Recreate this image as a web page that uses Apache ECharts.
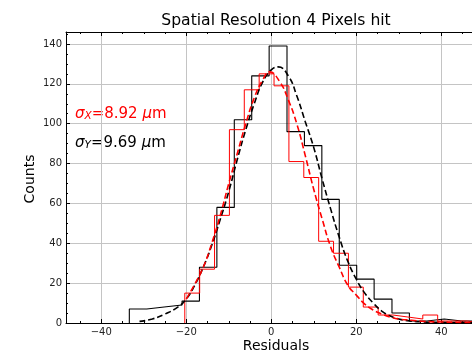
<!DOCTYPE html>
<html>
<head>
<meta charset="utf-8">
<script src="https://cdn.jsdelivr.net/npm/echarts@6/dist/echarts.min.js"></script>
<style>
  html, body { margin: 0; padding: 0; background: #fff; overflow: hidden; }
  /* the plot runs past the right edge of the window, like the reference */
  #main { width: 500px; height: 354px; }
</style>
</head>
<body>
<div id="main"></div>
<script>
  // histogram bin edges and counts
  const blackEdges = [-33.4, -29.3, -25.2, -21.0, -16.9, -12.8, -8.7, -4.6, -0.5, 3.7, 7.8, 11.9, 16.0, 20.1, 24.2, 28.4, 32.5, 36.6, 40.7, 44.8, 48.9];
  const blackCounts = [7, 8, 9, 11, 28, 58, 102, 124, 139, 96, 89, 62, 29, 22, 12, 5, 1, 2, 1, 1];

  const redEdges = [-20.35, -16.85, -13.35, -9.85, -6.35, -2.85, 0.65, 4.15, 7.65, 11.15, 14.65, 18.15, 21.65, 25.15, 28.65, 32.15, 35.65, 39.15, 42.65, 46.15, 49.65];
  const redCounts = [15, 27, 54, 97, 117, 125, 119, 81, 73, 41, 35, 18, 8, 4, 3, 2, 4, 1, 1, 0];

  // dashed fit curves
  const blackFitX = [-31, -28, -25, -22, -20, -18, -16, -14, -12, -10, -8, -6, -4, -2, 0, 1.6, 4, 6, 8, 10, 12, 14, 16, 18, 20, 22, 24, 26, 28, 30, 32, 35, 40, 45, 50];
  const blackFitY = [0.8, 2, 4.5, 8, 12, 19, 28, 39, 52, 66, 82, 97, 110, 121, 127, 128.5, 124, 114, 101, 88, 72, 57, 43, 31, 22, 15, 10, 6, 3.5, 2, 1.2, 0.6, 0.3, 0.2, 0.1];

  const redFitX = [-20, -18, -16, -14, -12, -10, -8, -6, -4, -2, -0.4, 2, 4, 6, 8, 10, 12, 14, 16, 18, 20, 22, 24, 26, 28, 30, 33, 36, 40, 45, 50];
  const redFitY = [12, 19.5, 28, 40, 54, 70, 85, 100, 113, 122, 126, 121, 112, 100, 84, 67, 52, 38, 28, 19, 14, 9.5, 6.5, 4.5, 3, 2, 1.4, 0.8, 0.5, 0.3, 0.2];

  const xMin = -48.3, xMax = 50.76;
  const yMin = 0, yMax = 146;

  const fontFamily = "DejaVu Sans";

  function stepData(edges, counts) {
    let pts = [[edges[0], 0]];
    for (let i = 0; i < counts.length; i++) {
      pts.push([edges[i], counts[i]]);
    }
    pts.push([edges[counts.length], 0]);
    return pts;
  }

  function zip(xs, ys) {
    return xs.map((x, i) => [x, ys[i]]);
  }

  function minus(v) {
    return String(v).replace("-", "\u2212");
  }

  let chart = echarts.init(document.getElementById("main"), null, { renderer: "canvas" });

  let tickCommon = {
    axisLine: { show: true, onZero: false, lineStyle: { color: "#000", width: 1 } },
    axisTick: { show: true, inside: true, length: 4, lineStyle: { color: "#000", width: 1 } },
    minorTick: { show: true, splitNumber: 4, length: 2, lineStyle: { color: "#000", width: 1 } }
  };

  let option = {
    animation: false,
    backgroundColor: "#fff",
    grid: { left: 66, top: 32, width: 421, height: 291 },
    xAxis: [
      Object.assign({
        type: "value",
        min: xMin,
        max: xMax,
        position: "bottom",
        axisLabel: {
          showMinLabel: false,
          showMaxLabel: false,
          fontFamily: fontFamily,
          fontSize: 10,
          color: "#222",
          margin: 4,
          formatter: minus
        },
        splitLine: { show: true, lineStyle: { color: "#c4c4c4", width: 1 } }
      }, tickCommon),
      Object.assign({
        type: "value",
        min: xMin,
        max: xMax,
        position: "top",
        axisLabel: { show: false },
        splitLine: { show: false }
      }, tickCommon)
    ],
    yAxis: [
      Object.assign({
        type: "value",
        min: yMin,
        max: yMax,
        interval: 20,
        position: "left",
        axisLabel: {
          showMaxLabel: false,
          fontFamily: fontFamily,
          fontSize: 10,
          color: "#222",
          margin: 4
        },
        splitLine: { show: true, lineStyle: { color: "#c4c4c4", width: 1 } }
      }, tickCommon)
    ],
    series: [
      {
        name: "black hist",
        type: "line",
        step: "end",
        symbol: "none",
        data: stepData(blackEdges, blackCounts),
        lineStyle: { color: "#000", width: 1.1 },
        z: 3
      },
      {
        name: "red hist",
        type: "line",
        step: "end",
        symbol: "none",
        data: stepData(redEdges, redCounts),
        lineStyle: { color: "#ff0000", width: 1 },
        z: 4
      },
      {
        name: "black fit",
        type: "line",
        smooth: true,
        symbol: "none",
        data: zip(blackFitX, blackFitY),
        lineStyle: { color: "#000", width: 1.6, type: [6, 3] },
        z: 5
      },
      {
        name: "red fit",
        type: "line",
        smooth: true,
        symbol: "none",
        data: zip(redFitX, redFitY),
        lineStyle: { color: "#ff0000", width: 1.6, type: [6, 3] },
        z: 6
      }
    ],
    graphic: [
      {
        type: "text",
        x: 276, y: 21,
        style: {
          text: "Spatial Resolution 4 Pixels hit",
          fontFamily: fontFamily, fontSize: 15.6,
          fill: "#000", align: "center", verticalAlign: "middle"
        }
      },
      {
        type: "text",
        x: 276, y: 346,
        style: {
          text: "Residuals",
          fontFamily: fontFamily, fontSize: 14,
          fill: "#000", align: "center", verticalAlign: "middle"
        }
      },
      {
        type: "text",
        x: 30, y: 179,
        rotation: Math.PI / 2,
        style: {
          text: "Counts",
          fontFamily: fontFamily, fontSize: 14,
          fill: "#000", align: "center", verticalAlign: "middle"
        }
      },
      {
        type: "text",
        x: 75, y: 114,
        style: {
          text: "{s|σ}{sub|X}=8.92 {s|μ}m",
          fontFamily: fontFamily, fontSize: 15,
          fill: "#ff0000", verticalAlign: "middle",
          rich: {
            s: { fontFamily: fontFamily, fontSize: 15, fontStyle: "italic", fill: "#ff0000" },
            sub: { fontFamily: fontFamily, fontSize: 10.5, fontStyle: "italic", fill: "#ff0000", verticalAlign: "bottom" }
          }
        }
      },
      {
        type: "text",
        x: 75, y: 143,
        style: {
          text: "{s|σ}{sub|Y}=9.69 {s|μ}m",
          fontFamily: fontFamily, fontSize: 15,
          fill: "#000", verticalAlign: "middle",
          rich: {
            s: { fontFamily: fontFamily, fontSize: 15, fontStyle: "italic", fill: "#000" },
            sub: { fontFamily: fontFamily, fontSize: 10.5, fontStyle: "italic", fill: "#000", verticalAlign: "bottom" }
          }
        }
      }
    ]
  };

  chart.setOption(option);
</script>
</body>
</html>
